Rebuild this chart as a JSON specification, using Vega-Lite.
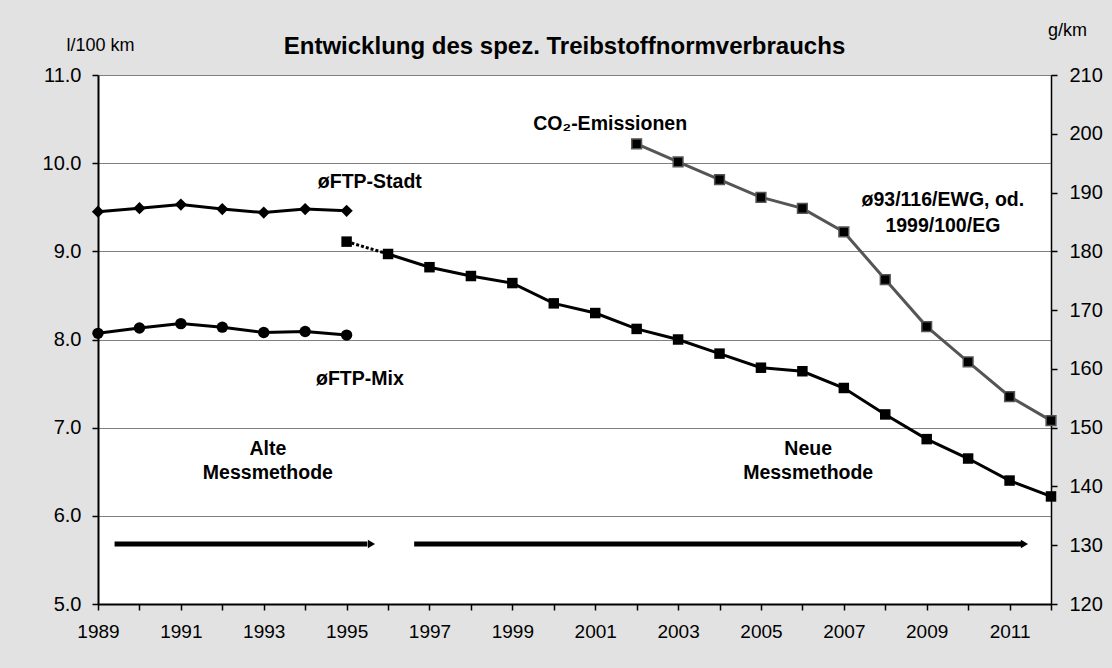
{
  "$schema": "https://vega.github.io/schema/vega-lite/v6.json",
  "width": 953,
  "height": 529,
  "autosize": "none",
  "padding": {"left": 98, "top": 75, "right": 61, "bottom": 64},
  "background": "#e2e2e2",
  "config": {
    "font": "Liberation Sans",
    "view": {"stroke": null, "fill": "white"},
    "axis": {"labelColor": "black", "titleColor": "black", "tickColor": "black", "domainColor": "black", "labelFont": "Liberation Sans", "titleFont": "Liberation Sans", "titleFontWeight": "normal"}
  },
  "title": {
    "text": "Entwicklung des spez. Treibstoffnormverbrauchs",
    "fontSize": 24,
    "fontWeight": "bold",
    "color": "black",
    "font": "Liberation Sans",
    "anchor": "middle",
    "baseline": "middle",
    "dx": -10,
    "dy": 70,
    "offset": 20
  },
  "datasets": {
    "left": [
      {"year": 1989, "series": "stadt", "value": 9.45},
      {"year": 1990, "series": "stadt", "value": 9.49},
      {"year": 1991, "series": "stadt", "value": 9.53},
      {"year": 1992, "series": "stadt", "value": 9.48},
      {"year": 1993, "series": "stadt", "value": 9.44},
      {"year": 1994, "series": "stadt", "value": 9.48},
      {"year": 1995, "series": "stadt", "value": 9.46},
      {"year": 1989, "series": "mix", "value": 8.07},
      {"year": 1990, "series": "mix", "value": 8.13},
      {"year": 1991, "series": "mix", "value": 8.18},
      {"year": 1992, "series": "mix", "value": 8.14},
      {"year": 1993, "series": "mix", "value": 8.08},
      {"year": 1994, "series": "mix", "value": 8.09},
      {"year": 1995, "series": "mix", "value": 8.05},
      {"year": 1995, "series": "neu", "value": 9.11},
      {"year": 1996, "series": "neu", "value": 8.97},
      {"year": 1997, "series": "neu", "value": 8.82},
      {"year": 1998, "series": "neu", "value": 8.72},
      {"year": 1999, "series": "neu", "value": 8.64},
      {"year": 2000, "series": "neu", "value": 8.41},
      {"year": 2001, "series": "neu", "value": 8.30},
      {"year": 2002, "series": "neu", "value": 8.12},
      {"year": 2003, "series": "neu", "value": 8.00},
      {"year": 2004, "series": "neu", "value": 7.84},
      {"year": 2005, "series": "neu", "value": 7.68},
      {"year": 2006, "series": "neu", "value": 7.64},
      {"year": 2007, "series": "neu", "value": 7.45},
      {"year": 2008, "series": "neu", "value": 7.15},
      {"year": 2009, "series": "neu", "value": 6.87},
      {"year": 2010, "series": "neu", "value": 6.65},
      {"year": 2011, "series": "neu", "value": 6.40},
      {"year": 2012, "series": "neu", "value": 6.22}
    ],
    "co2": [
      {"year": 2002, "value": 198.3},
      {"year": 2003, "value": 195.2},
      {"year": 2004, "value": 192.2},
      {"year": 2005, "value": 189.2},
      {"year": 2006, "value": 187.3},
      {"year": 2007, "value": 183.3},
      {"year": 2008, "value": 175.2},
      {"year": 2009, "value": 167.2},
      {"year": 2010, "value": 161.2},
      {"year": 2011, "value": 155.3},
      {"year": 2012, "value": 151.2}
    ],
    "one": [{}]
  },
  "layer": [
    {
      "layer": [
        {
          "data": {"name": "left"},
          "transform": [{"filter": "datum.series == 'stadt'"}],
          "mark": {"type": "line", "color": "black", "strokeWidth": 3},
          "encoding": {
            "x": {
              "field": "year", "type": "quantitative",
              "scale": {"domain": [1989, 2012], "nice": false, "zero": false},
              "axis": {
                "title": null,
                "values": [1989,1990,1991,1992,1993,1994,1995,1996,1997,1998,1999,2000,2001,2002,2003,2004,2005,2006,2007,2008,2009,2010,2011,2012],
                "format": "d",
                "labelExpr": "datum.value % 2 == 1 ? datum.label : ''",
                "labelFontSize": 19,
                "labelPadding": 12,
                "tickSize": 6,
                "domainWidth": 2,
                "tickWidth": 1.5,
                "grid": false,
                "labelFlush": false,
                "labelOverlap": false
              }
            },
            "y": {
              "field": "value", "type": "quantitative",
              "scale": {"domain": [5, 11], "nice": false, "zero": false},
              "axis": {
                "title": "l/100 km",
                "titleAngle": 0,
                "titleFontSize": 18,
                "titleFontWeight": "normal",
                "titleAlign": "center",
                "titleBaseline": "middle",
                "titleX": 2,
                "titleY": -30,
                "values": [5, 6, 7, 8, 9, 10, 11],
                "format": ".1f",
                "labelFontSize": 20,
                "labelPadding": 11,
                "tickSize": 6,
                "tickWidth": 1.5,
                "domainWidth": 2,
                "grid": true,
                "gridColor": "#808080",
                "gridWidth": 1
              }
            }
          }
        },
        {
          "data": {"name": "left"},
          "transform": [{"filter": "datum.series == 'stadt'"}],
          "mark": {"type": "point", "shape": "diamond", "filled": true, "color": "black", "opacity": 1, "size": 150},
          "encoding": {"x": {"field": "year", "type": "quantitative"}, "y": {"field": "value", "type": "quantitative"}}
        },
        {
          "data": {"name": "left"},
          "transform": [{"filter": "datum.series == 'mix'"}],
          "mark": {"type": "line", "color": "black", "strokeWidth": 3},
          "encoding": {"x": {"field": "year", "type": "quantitative"}, "y": {"field": "value", "type": "quantitative"}}
        },
        {
          "data": {"name": "left"},
          "transform": [{"filter": "datum.series == 'mix'"}],
          "mark": {"type": "point", "shape": "circle", "filled": true, "color": "black", "opacity": 1, "size": 130},
          "encoding": {"x": {"field": "year", "type": "quantitative"}, "y": {"field": "value", "type": "quantitative"}}
        },
        {
          "data": {"name": "left"},
          "transform": [{"filter": "datum.series == 'neu' && datum.year >= 1996"}],
          "mark": {"type": "line", "color": "black", "strokeWidth": 3},
          "encoding": {"x": {"field": "year", "type": "quantitative"}, "y": {"field": "value", "type": "quantitative"}}
        },
        {
          "data": {"name": "left"},
          "transform": [{"filter": "datum.series == 'neu' && datum.year <= 1996"}],
          "mark": {"type": "line", "color": "black", "strokeWidth": 3, "strokeDash": [3, 2]},
          "encoding": {"x": {"field": "year", "type": "quantitative"}, "y": {"field": "value", "type": "quantitative"}}
        },
        {
          "data": {"name": "left"},
          "transform": [{"filter": "datum.series == 'neu'"}],
          "mark": {"type": "point", "shape": "square", "filled": true, "color": "black", "opacity": 1, "size": 110},
          "encoding": {"x": {"field": "year", "type": "quantitative"}, "y": {"field": "value", "type": "quantitative"}}
        },
        {
          "data": {"name": "one"},
          "mark": {"type": "rule", "color": "black", "strokeWidth": 5},
          "encoding": {
            "x": {"datum": 1989.4, "type": "quantitative"},
            "x2": {"datum": 1995.5},
            "y": {"datum": 5.68, "type": "quantitative"}
          }
        },
        {
          "data": {"name": "one"},
          "mark": {"type": "point", "shape": "triangle-right", "filled": true, "color": "black", "opacity": 1, "size": 70},
          "encoding": {
            "x": {"datum": 1995.6, "type": "quantitative"},
            "y": {"datum": 5.68, "type": "quantitative"}
          }
        },
        {
          "data": {"name": "one"},
          "mark": {"type": "rule", "color": "black", "strokeWidth": 5},
          "encoding": {
            "x": {"datum": 1996.63, "type": "quantitative"},
            "x2": {"datum": 2011.28},
            "y": {"datum": 5.68, "type": "quantitative"}
          }
        },
        {
          "data": {"name": "one"},
          "mark": {"type": "point", "shape": "triangle-right", "filled": true, "color": "black", "opacity": 1, "size": 70},
          "encoding": {
            "x": {"datum": 2011.36, "type": "quantitative"},
            "y": {"datum": 5.68, "type": "quantitative"}
          }
        },
        {
          "data": {"name": "one"},
          "mark": {"type": "text", "text": "øFTP-Stadt", "fontSize": 19.5, "fontWeight": "bold", "color": "black", "align": "center", "baseline": "middle"},
          "encoding": {"x": {"datum": 1995.56, "type": "quantitative"}, "y": {"datum": 9.786, "type": "quantitative"}}
        },
        {
          "data": {"name": "one"},
          "mark": {"type": "text", "text": "øFTP-Mix", "fontSize": 19.5, "fontWeight": "bold", "color": "black", "align": "center", "baseline": "middle"},
          "encoding": {"x": {"datum": 1995.32, "type": "quantitative"}, "y": {"datum": 7.552, "type": "quantitative"}}
        },
        {
          "data": {"name": "one"},
          "mark": {"type": "text", "text": "CO₂-Emissionen", "fontSize": 19.5, "fontWeight": "bold", "color": "black", "align": "center", "baseline": "middle"},
          "encoding": {"x": {"datum": 2001.36, "type": "quantitative"}, "y": {"datum": 10.444, "type": "quantitative"}}
        },
        {
          "data": {"name": "one"},
          "mark": {"type": "text", "text": ["ø93/116/EWG, od.", "1999/100/EG"], "lineHeight": 26, "fontSize": 19.5, "fontWeight": "bold", "color": "black", "align": "center", "baseline": "middle"},
          "encoding": {"x": {"datum": 2009.39, "type": "quantitative"}, "y": {"datum": 9.582, "type": "quantitative"}}
        },
        {
          "data": {"name": "one"},
          "mark": {"type": "text", "text": ["Alte", "Messmethode"], "lineHeight": 24, "fontSize": 19.5, "fontWeight": "bold", "color": "black", "align": "center", "baseline": "middle"},
          "encoding": {"x": {"datum": 1993.10, "type": "quantitative"}, "y": {"datum": 6.758, "type": "quantitative"}}
        },
        {
          "data": {"name": "one"},
          "mark": {"type": "text", "text": ["Neue", "Messmethode"], "lineHeight": 24, "fontSize": 19.5, "fontWeight": "bold", "color": "black", "align": "center", "baseline": "middle"},
          "encoding": {"x": {"datum": 2006.14, "type": "quantitative"}, "y": {"datum": 6.758, "type": "quantitative"}}
        }
      ]
    },
    {
      "data": {"name": "co2"},
      "encoding": {
        "x": {"field": "year", "type": "quantitative"},
        "y": {
          "field": "value", "type": "quantitative",
          "scale": {"domain": [120, 210], "nice": false, "zero": false},
          "axis": {
            "orient": "right",
            "title": "g/km",
            "titleAngle": 0,
            "titleFontSize": 18,
            "titleFontWeight": "normal",
            "titleAlign": "center",
            "titleBaseline": "middle",
            "titleX": 16,
            "titleY": -45,
            "values": [120, 130, 140, 150, 160, 170, 180, 190, 200, 210],
            "format": "d",
            "labelFontSize": 20,
            "labelPadding": 12,
            "tickSize": 6,
            "tickWidth": 1.5,
            "domainWidth": 1.5,
            "grid": false
          }
        }
      },
      "layer": [
        {"mark": {"type": "line", "color": "#555555", "strokeWidth": 3}},
        {"mark": {"type": "point", "shape": "square", "filled": true, "color": "black", "stroke": "#555555", "strokeWidth": 1.5, "opacity": 1, "size": 95}}
      ]
    }
  ],
  "resolve": {"scale": {"y": "independent"}}
}
